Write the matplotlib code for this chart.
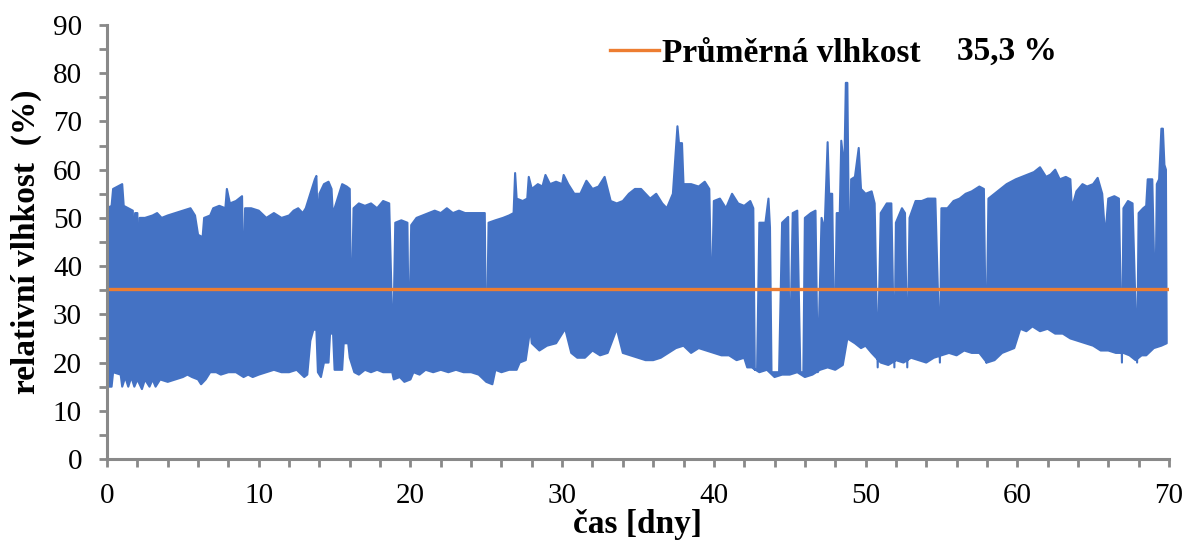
import matplotlib
matplotlib.use("Agg")
import matplotlib.pyplot as plt
import numpy as np

plt.rcParams['font.family'] = ['Liberation Serif', 'DejaVu Serif']

# horní obálka měření (den, vlhkost %) - včetně výpadků
t_hi = [0.0, 0.3, 0.4, 0.7, 1.0, 1.1, 1.4, 1.7, 1.75, 1.85, 2.0, 2.05, 2.15, 2.5, 3.0, 3.3, 3.6, 4.0, 4.5,
        5.0, 5.5, 5.8, 6.0, 6.3, 6.4, 6.8, 7.0, 7.4, 7.8, 7.9, 8.1, 8.5, 8.9, 9.0, 9.1, 9.5, 10.0, 10.5,
        11.0, 11.5, 12.0, 12.3, 12.6, 12.9, 13.1, 13.3, 13.5, 13.7, 13.8, 13.9, 14.0, 14.3, 14.6, 14.8,
        14.9, 15.0, 15.3, 15.5, 15.8, 16.0, 16.1, 16.25, 16.6, 17.0, 17.4, 17.8, 18.2, 18.6, 18.85, 19.0,
        19.4, 19.8, 19.9, 20.05, 20.4, 20.8, 21.2, 21.6, 22.0, 22.4, 22.8, 23.2, 23.6, 24.0, 24.5, 24.9,
        25.0, 25.15, 25.6, 26.1, 26.5, 26.8, 26.9, 27.0, 27.4, 27.7, 27.8, 28.0, 28.4, 28.7, 28.9, 29.2,
        29.6, 30.0, 30.1, 30.4, 30.8, 31.2, 31.6, 32.0, 32.4, 32.8, 33.2, 33.6, 34.0, 34.4, 34.8, 35.2,
        35.5, 35.8, 36.2, 36.6, 36.9, 37.3, 37.6, 37.7, 37.9, 38.0, 38.5, 39.0, 39.4, 39.7, 39.85, 40.0,
        40.4, 40.8, 41.2, 41.6, 42.0, 42.4, 42.6, 42.7, 42.85, 43.0, 43.4, 43.6, 43.7, 43.8, 44.3, 44.5,
        44.9, 45.0, 45.2, 45.5, 45.7, 45.9, 46.0, 46.4, 46.7, 46.85, 47.1, 47.3, 47.5, 47.6, 47.8, 47.95,
        48.1, 48.3, 48.4, 48.6, 48.7, 48.8, 48.95, 49.05, 49.3, 49.55, 49.7, 50.0, 50.4, 50.6, 50.8, 51.0,
        51.4, 51.7, 51.9, 52.0, 52.4, 52.6, 52.75, 52.9, 53.3, 53.7, 54.1, 54.6, 54.9, 55.0, 55.4, 55.8,
        56.2, 56.6, 57.0, 57.5, 57.8, 57.95, 58.1, 58.5, 58.9, 59.3, 59.6, 59.9, 60.3, 60.7, 61.1, 61.5,
        61.9, 62.2, 62.5, 62.8, 63.2, 63.5, 63.6, 63.9, 64.3, 64.6, 65.0, 65.3, 65.6, 65.8, 66.0, 66.4,
        66.7, 66.9, 67.0, 67.3, 67.6, 67.9, 68.0, 68.3, 68.5, 68.6, 68.9, 69.1, 69.2, 69.35, 69.5, 69.6,
        69.7, 69.8, 69.85]
v_hi = [52, 52.5, 56, 56.5, 57, 52.5, 52, 51.5, 40.6, 51, 51, 34, 50, 50, 50.5, 51, 50, 50.5, 51,
        51.5, 52, 50.5, 46.5, 46, 50, 50.5, 52, 52.5, 52, 56, 53, 53.5, 54.5, 34, 52, 52, 51.5, 50,
        51, 50, 50.5, 51.5, 52, 51, 52, 54, 56, 58, 58.7, 48, 55, 57, 57.5, 56,
        49.5, 52, 55, 57, 56.5, 56, 27, 52, 53, 52.5, 53, 52, 53.5, 53, 22, 49,
        49.5, 49, 22, 48.5, 50, 50.5, 51, 51.5, 51, 52, 51, 51.5, 51, 51, 51, 51,
        17, 49, 49.5, 50, 50.5, 51, 59.3, 54, 53.5, 54, 58.5, 56, 57, 56.5, 58.9, 57,
        57.5, 57, 58.9, 57, 55, 55, 57.7, 56, 56.5, 58.5, 53.5, 53, 53.5, 55, 56, 56,
        55, 54, 55, 53, 52, 55, 69, 65.5, 65.5, 57, 57, 56.5, 57.5, 56, 31, 53.5,
        54, 52, 55, 53, 52.5, 53.5, 52, 18.5, 18.5, 49, 49, 54, 48, 18, 18, 49,
        50.2, 18, 51, 51.5, 18, 18, 50, 51, 51.5, 18, 50, 47.5, 65.7, 55, 55, 20,
        51, 51, 66, 60, 78, 78, 32, 58, 58.5, 64.5, 56, 55, 55.5, 53, 19, 51,
        53, 53, 19, 49, 52, 51, 19, 50, 53.5, 53.5, 54, 54, 20, 52, 52, 53.5,
        54, 55, 55.5, 56.5, 56, 20, 54, 55, 56, 57, 57.5, 58, 58.5, 59, 59.5, 60.5,
        58.5, 59, 60, 58, 58.5, 58, 52, 55.5, 57, 56.5, 57, 58.3, 55, 46, 54, 54.5,
        54, 20, 52, 53.5, 53, 20, 51, 52, 52.5, 58, 58, 30, 57, 58, 68.5, 68.5,
        61, 60, 25]

# dolní obálka měření (den, vlhkost %)
t_lo = [0.0, 0.3, 0.4, 0.9, 1.0, 1.2, 1.4, 1.6, 1.8, 2.0, 2.3, 2.5, 2.8, 3.0, 3.2, 3.5, 4.0, 4.5, 5.0,
        5.3, 5.6, 6.0, 6.2, 6.5, 6.8, 7.2, 7.5, 8.0, 8.5, 9.0, 9.3, 9.6, 10.0, 10.5, 11.0, 11.5, 12.0,
        12.5, 13.0, 13.2, 13.4, 13.6, 13.8, 13.9, 14.1, 14.3, 14.6, 14.7, 14.9, 15.0, 15.5, 15.6, 15.9,
        16.0, 16.3, 16.6, 17.0, 17.4, 17.8, 18.2, 18.8, 18.9, 19.3, 19.6, 20.0, 20.2, 20.6, 21.0, 21.5,
        22.0, 22.5, 23.0, 23.5, 24.0, 24.5, 25.0, 25.4, 25.6, 26.0, 26.5, 27.0, 27.2, 27.6, 27.9, 28.0,
        28.5, 29.0, 29.6, 30.2, 30.6, 31.0, 31.5, 32.0, 32.5, 33.0, 33.6, 34.0, 34.5, 35.0, 35.5, 36.0,
        36.5, 37.0, 37.5, 38.0, 38.5, 39.0, 39.5, 40.0, 40.5, 41.0, 41.5, 42.0, 42.2, 42.5, 43.0, 43.5,
        44.0, 44.5, 45.0, 45.5, 46.0, 46.5, 47.0, 47.5, 48.0, 48.5, 48.8, 49.3, 49.7, 50.0, 50.4, 50.7,
        51.0, 51.5, 52.0, 52.5, 53.0, 53.5, 54.0, 54.5, 55.0, 55.5, 56.0, 56.5, 57.0, 57.5, 58.0, 58.5,
        59.0, 59.4, 59.8, 60.2, 60.6, 61.0, 61.5, 62.0, 62.5, 63.0, 63.5, 64.0, 64.5, 65.0, 65.5, 66.0,
        66.5, 67.0, 67.4, 67.8, 68.2, 68.5, 69.0, 69.5, 69.85]
v_lo = [15, 15, 18, 17.5, 15, 17, 15, 17, 15, 16.5, 14.5, 16.5, 15, 16.5, 15, 16.5, 16, 16.5, 17,
        17.5, 17, 16.5, 15.5, 16.5, 18, 18, 17.5, 18, 18, 17, 17.5, 17, 17.5, 18, 18.5, 18, 18,
        18.5, 17, 17.5, 24.5, 26.8, 26.8, 18, 17, 20, 20, 26, 26, 18.5, 18.5, 24, 24,
        21, 18, 17.5, 18.5, 18, 18.5, 18, 18, 16.5, 17, 16, 16.5, 18, 17.5, 18.5, 18,
        18.5, 18, 18.5, 18, 18, 17.5, 16, 15.5, 18.5, 18, 18.5, 18.5, 20, 20.5, 27, 24,
        22.5, 23.5, 24, 27, 22, 21, 21, 22.5, 21.5, 22, 27, 22, 21.5, 21, 20.5, 20.5,
        21, 22, 23, 23.5, 22, 23, 22.5, 22, 21.5, 21.5, 20.5, 21, 19, 19, 18, 18.5,
        17, 17.5, 17.5, 18, 17, 17.5, 18.5, 19, 18.5, 19.5, 25, 24, 23, 23.5, 22, 21,
        20, 19.5, 20.5, 20, 21, 20.5, 20, 21, 21.5, 22, 21.5, 22.5, 22, 22, 20, 20.5,
        22, 22.5, 23, 27, 26.5, 27.5, 26.5, 27, 26, 26, 25, 24.5, 24, 23.5, 22.5, 22.5,
        22, 22, 21.5, 20.5, 21.5, 21.5, 23, 23.5, 24]

prumer = 35.3
legenda = "Průměrná vlhkost"
popis_prumeru = "35,3 %"

fig = plt.figure(figsize=(11.84, 5.49), dpi=100)
ax = fig.add_axes([0.0904, 0.1639, 0.8969, 0.7906])

blue = '#4472C4'
ax.fill(np.r_[t_hi, t_lo[::-1]], np.r_[v_hi, v_lo[::-1]], color=blue, lw=1.5, joinstyle='round')
ax.plot([0, 70], [prumer, prumer], color='#ED7D31', lw=2.4, label=legenda)

ax.set_xlim(0, 70)
ax.set_ylim(0, 90)
ax.set_xticks(range(0, 71, 10))
ax.set_xticks(range(0, 71, 2), minor=True)
ax.set_yticks(range(0, 91, 10))
ax.set_yticks(range(0, 91, 5), minor=True)
for s in ['top', 'right']:
    ax.spines[s].set_visible(False)
for s in ['left', 'bottom']:
    ax.spines[s].set_color('#898989')
    ax.spines[s].set_linewidth(2.2)
ax.tick_params(which='both', color='#898989', width=2, length=6, labelsize=21)
ax.tick_params(axis='x', pad=11)
ax.tick_params(axis='y', pad=12)

ax.set_xlabel("čas [dny]", fontsize=24, fontweight='bold', labelpad=0)
ax.set_ylabel("relativní vlhkost  (%)", fontsize=24, fontweight='bold', labelpad=8)

leg = ax.legend(loc='center left', bbox_to_anchor=(0.474, 0.935), frameon=False,
                handlelength=1.45, handletextpad=0.1, borderpad=0, borderaxespad=0,
                prop={'size': 24, 'weight': 'bold'})
ax.text(0.8, 0.94, popis_prumeru, transform=ax.transAxes, fontsize=24, fontweight='bold',
        va='center', ha='left')

fig.savefig('out.png', dpi=100)
